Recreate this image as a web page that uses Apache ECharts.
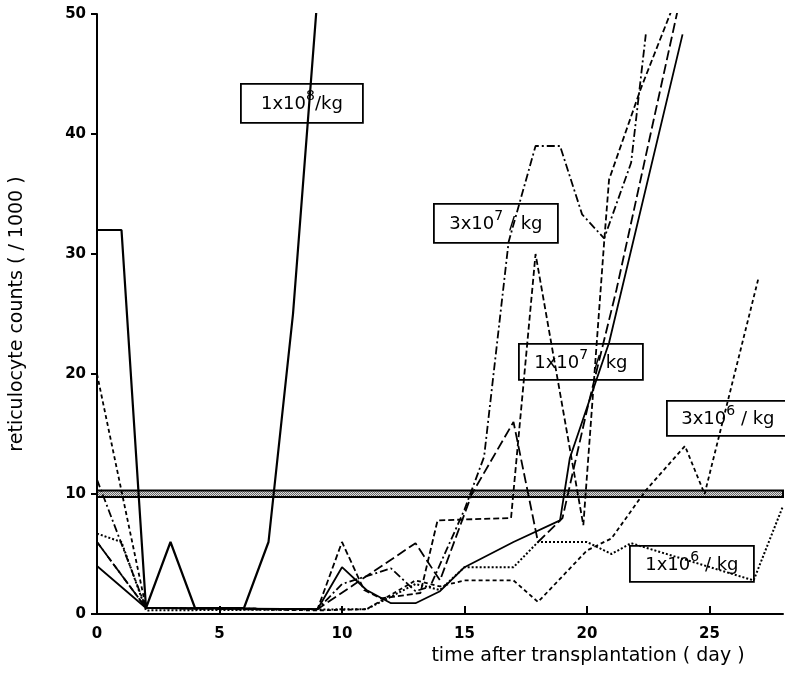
<!DOCTYPE html>
<html>
<head>
<meta charset="utf-8">
<script src="https://cdn.jsdelivr.net/npm/echarts/dist/echarts.min.js"></script>
<style>
  html, body { margin: 0; padding: 0; background: #fff; }
  #chart { width: 785px; height: 690px; }
</style>
</head>
<body>
<div id="chart"></div>
<script>
// Reticulocyte counts (/1000) against days after transplantation, one array per animal.
// Each point is [day, count].
const dose1e8 = [[0,32],[1,32],[2,0.5],[3,6],[4,0.5],[6,0.5],[7,6],[8,25],[9,51.5]];
const dose3e7a = [[0,11.2],[2,0.5],[9,0.4],[10,2.5],[12,3.8],[13,1.9],[13.6,2.3],[15,8.7],[15.8,13.1],[16.8,31],[17.9,39],[18.9,39],[19.8,33.3],[20.7,31.3],[21.8,37.6],[22.4,48.3]];
const dose3e7b = [[0,6],[2,0.5],[9,0.4],[10,6],[10.9,2],[11.6,1.3],[13.2,1.75],[13.9,7.8],[16.9,8],[17.9,30],[19.85,7.4],[20.7,31],[20.9,36.2],[22.2,43.8],[23.45,50.3]];
const dose1e7a = [[0,4],[2,0.5],[9,0.4],[10,3.9],[11,2],[12,0.9],[13,0.9],[14,1.9],[15,3.9],[17,6],[18.9,7.8],[19.3,13],[20.9,22.6],[23.9,48.3]];
const dose1e7b = [[0,6],[2,0.5],[9,0.4],[13,5.9],[14,2.8],[15.3,10],[17,16],[18,6],[19,8],[20,17],[21.2,27],[23.7,50.3]];
const dose3e6 = [[0,20],[2,0.5],[9,0.3],[11,0.4],[13,2.8],[14,2.3],[15,2.8],[17,2.8],[18,1],[20,5.3],[21,6.3],[22.4,10.3],[24,14],[24.8,10],[27,28]];
const dose1e6 = [[0,6.7],[1,6],[2,0.3],[11,0.4],[13,2.5],[14,2],[15,3.9],[17,3.9],[18,6],[20,6],[21,5],[21.8,5.9],[26.8,2.8],[28,9]];

// Normal range band (about 10 x 1000)
const normalBand = [9.75, 10.3];

// Axis ticks
const xTickValues = [5, 10, 15, 20, 25];
const xLabelValues = [0, 5, 10, 15, 20, 25];

// Dose labels: mantissa, exponent, unit
const doseLabels = [
  { m: '1x10', e: '8', u: '/kg' },
  { m: '3x10', e: '7', u: ' / kg' },
  { m: '1x10', e: '7', u: ' / kg' },
  { m: '3x10', e: '6', u: ' / kg' },
  { m: '1x10', e: '6', u: ' / kg' }
];

const FONT = 'DejaVu Sans';

function stipple() {
  const c = document.createElement('canvas');
  c.width = 4; c.height = 4;
  const g = c.getContext('2d');
  g.fillStyle = '#dcdcdc';
  g.fillRect(0, 0, 4, 4);
  g.fillStyle = '#6a6a6a';
  g.fillRect(0, 0, 1, 1); g.fillRect(2, 0, 1, 1);
  g.fillRect(1, 1, 1, 1); g.fillRect(3, 1, 1, 1);
  g.fillRect(0, 2, 1, 1); g.fillRect(2, 2, 1, 1);
  g.fillRect(1, 3, 1, 1); g.fillRect(3, 3, 1, 1);
  return c;
}

function lineSeries(data, type, width) {
  return {
    type: 'line',
    data: data,
    symbol: 'none',
    silent: true,
    clip: true,
    lineStyle: { color: '#000', width: width || 1.8, type: type, cap: 'butt' },
    z: 3
  };
}

const chart = echarts.init(document.getElementById('chart'), null, { renderer: 'canvas' });

const series = [
  lineSeries(dose1e8, 'solid', 2.2),
  lineSeries(dose3e7a, [8, 3, 2, 3]),
  lineSeries(dose3e7b, [6, 3]),
  lineSeries(dose1e7a, 'solid', 1.8),
  lineSeries(dose1e7b, [10, 4]),
  lineSeries(dose3e6, [4, 3]),
  lineSeries(dose1e6, [2, 2], 2)
];

series[0].markArea = {
  silent: true,
  itemStyle: { color: { image: stipple(), repeat: 'repeat' }, borderColor: '#000', borderWidth: 2 },
  data: [[{ xAxis: 0, yAxis: normalBand[0] }, { xAxis: 28, yAxis: normalBand[1] }]]
};

function labelBox(i, left, top, w, h) {
  const d = doseLabels[i];
  return {
    type: 'group',
    left: left, top: top,
    z: 100,
    children: [
      { type: 'rect', shape: { x: 0, y: 0, width: w, height: h },
        style: { fill: '#fff', stroke: '#000', lineWidth: 1.8 } },
      { type: 'text', x: w / 2, y: h / 2 + 1,
        style: {
          text: '{b|' + d.m + '}{s|' + d.e + '}{b|' + d.u + '}',
          align: 'center', verticalAlign: 'middle',
          rich: {
            b: { fontFamily: FONT, fontSize: 18, fill: '#000', lineHeight: 30 },
            s: { fontFamily: FONT, fontSize: 14, fill: '#000', verticalAlign: 'top', lineHeight: 14 }
          }
        } }
    ]
  };
}

chart.setOption({
  animation: false,
  backgroundColor: '#fff',
  grid: { left: 97, top: 14, right: 2, bottom: 76, containLabel: false },
  xAxis: {
    type: 'value', min: 0, max: 28, interval: 5,
    name: 'time after transplantation ( day )',
    nameLocation: 'middle', nameGap: 30,
    nameTextStyle: { fontFamily: FONT, fontSize: 19, color: '#000', padding: [0, 0, 0, 296] },
    axisLine: { lineStyle: { color: '#000', width: 2 } },
    axisTick: { inside: true, length: 8, lineStyle: { color: '#000', width: 2 }, customValues: xTickValues },
    axisLabel: { fontFamily: FONT, fontSize: 15, fontWeight: 'bold', color: '#000', margin: 13, customValues: xLabelValues },
    splitLine: { show: false }
  },
  yAxis: {
    type: 'value', min: 0, max: 50, interval: 10,
    name: 'reticulocyte counts ( / 1000 )',
    nameLocation: 'middle', nameGap: 70, nameRotate: 90,
    nameTextStyle: { fontFamily: FONT, fontSize: 19, color: '#000' },
    axisLine: { show: true, lineStyle: { color: '#000', width: 2 } },
    axisTick: { show: true, inside: false, length: 6, lineStyle: { color: '#000', width: 2 } },
    axisLabel: { fontFamily: FONT, fontSize: 15, fontWeight: 'bold', color: '#000', margin: 11 },
    splitLine: { show: false }
  },
  series: series,
  graphic: [
    labelBox(0, 240, 83, 122, 39),
    labelBox(1, 433, 203, 124, 39),
    labelBox(2, 518, 343, 124, 36),
    labelBox(3, 666, 400, 122, 35),
    labelBox(4, 629, 545, 124, 36)
  ]
});
</script>
</body>
</html>
